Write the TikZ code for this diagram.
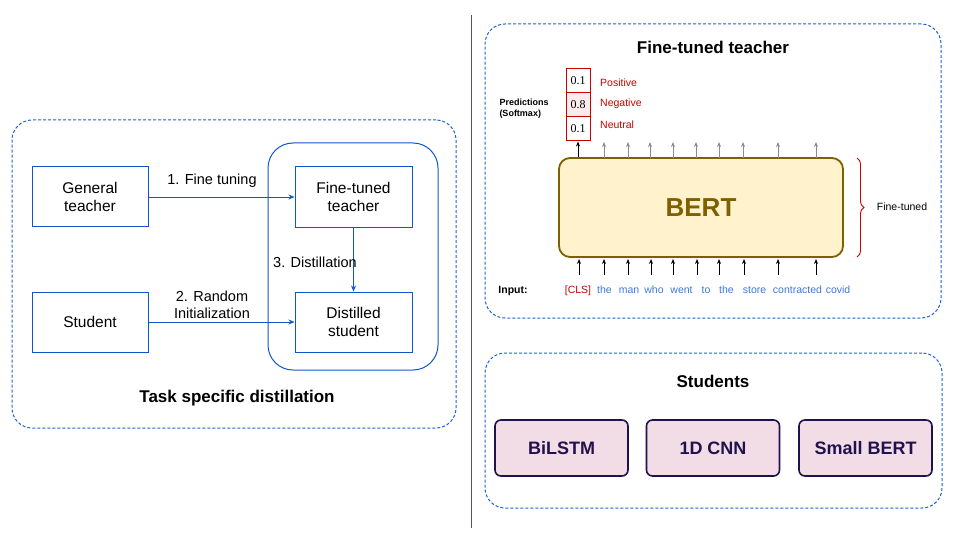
\documentclass[tikz,border=0pt]{standalone}
\usepackage{fontspec}
\setmainfont{Liberation Sans}
\newfontfamily\numfont{Liberation Serif}
\usetikzlibrary{arrows.meta,decorations.pathreplacing,calc}
\definecolor{lblue}{HTML}{1155CC}
\definecolor{dblue}{HTML}{1A62D8}
\definecolor{wblue}{HTML}{3C78D8}
\definecolor{rred}{HTML}{CC0000}
\definecolor{olive}{HTML}{7F6000}
\definecolor{bertfill}{HTML}{FFF2CC}
\definecolor{stfill}{HTML}{F2DDE6}
\definecolor{stdraw}{HTML}{20124D}
\definecolor{sep}{HTML}{555555}
\tikzset{
  groupbox/.style={draw=dblue, dash pattern=on 3pt off 2pt, line width=1pt, rounded corners=20pt},
  flowbox/.style={draw=lblue, line width=1pt, minimum width=116pt, minimum height=60pt, align=center, font=\fontsize{15.5}{18}\selectfont, inner sep=0pt},
  flowarr/.style={draw=lblue, line width=0.9pt, -{Stealth[length=6pt,width=5pt]}},
  flowlbl/.style={font=\fontsize{14.5}{17}\selectfont, align=center, inner sep=0pt},
  title/.style={font=\fontsize{17}{19}\selectfont\bfseries, inner sep=0pt},
  cell/.style={draw=rred, line width=1pt, minimum width=24pt, minimum height=24pt, inner sep=0pt, font=\numfont\fontsize{12}{13}\selectfont},
  predlbl/.style={text=rred, font=\fontsize{10.5}{12}\selectfont, anchor=west, inner sep=0pt, text height=7.8pt, text depth=2.2pt},
  word/.style={text=wblue, font=\fontsize{10.5}{12}\selectfont, inner sep=0pt, text height=7.8pt, text depth=2.2pt},
  outarr/.style={draw=gray!90, line width=0.8pt, -{Stealth[length=5pt,width=4pt]}},
  inarr/.style={draw=black, line width=0.8pt, -{Stealth[length=5pt,width=4pt]}},
  stbox/.style={draw=stdraw, fill=stfill, line width=1.6pt, rounded corners=6pt, minimum width=133pt, minimum height=56pt, inner sep=0pt, text=stdraw, font=\fontsize{18}{20}\selectfont\bfseries}
}
\begin{document}
\begin{tikzpicture}[x=1pt,y=-1pt]
\useasboundingbox (0,0) rectangle (960,540);
% separator
\draw[sep, line width=0.8pt] (471,15) -- (471,528);

% ---------- left panel ----------
\node[groupbox, minimum width=444pt, minimum height=308pt, inner sep=0pt] (leftgrp) at (234,274) {};
\node[draw=lblue, line width=1pt, rounded corners=25pt, minimum width=170pt, minimum height=227pt, inner sep=0pt] (inner) at (353,256.5) {};
\node[flowbox] (gt) at (90,196.5) {General\\teacher};
\node[flowbox] (st) at (90,322) {Student};
\node[flowbox, minimum width=117pt] (ft) at (353.5,197) {Fine-tuned\\teacher};
\node[flowbox, minimum width=117pt] (ds) at (353.5,322) {Distilled\\student};
\draw[flowarr] (gt.east |- ft.west) -- (ft.west);
\draw[flowarr] (st.east) -- (ds.west);
\draw[flowarr] (ft.south) -- (ds.north);
\node[flowlbl] (l1) at (212,181) {1. Fine tuning};
\node[flowlbl, text height=10pt] (l2) at (212,314) {2. Random\\Initialization};
\node[flowlbl] (l3) at (315,262) {3. Distillation};
\node[title] (tsd) at (237,398) {Task specific distillation};

% ---------- right top panel ----------
\node[groupbox, minimum width=456pt, minimum height=294pt, inner sep=0pt] (topgrp) at (713,171) {};
\node[title] (ftt) at (713,47) {Fine-tuned teacher};
\node[cell] (p1) at (578,81) {0.1};
\node[cell, fill=rred!8] (p2) at (578,105) {0.8};
\node[cell] (p3) at (578,129) {0.1};
\node[predlbl] (pos) at (600,84) {Positive};
\node[predlbl] (neg) at (600,104) {Negative};
\node[predlbl] (neu) at (600,126) {Neutral};
\node[font=\fontsize{9}{11}\selectfont\bfseries, align=left, inner sep=0pt] (pred) at (524,108.5) {Predictions\\(Softmax)};
\node[draw=olive, fill=bertfill, line width=1.8pt, rounded corners=11pt, minimum width=284pt, minimum height=99pt, inner sep=0pt, text=olive, font=\fontsize{26}{28}\selectfont\bfseries] (bert) at (701,207.5) {BERT};
% output arrows
\draw[inarr] (p3.south |- bert.north) -- (p3.south);
\foreach \x in {604,628,650,673,696,719,743,778,816}{
  \draw[outarr] (\x,158) -- (\x,142);
}
% input arrows
\foreach \x in {579,604,628,651,673,697,719,744,778,816}{
  \draw[inarr] (\x,275) -- (\x,259);
}
\node[font=\fontsize{10.5}{12}\selectfont\bfseries, inner sep=0pt, text height=7.8pt, text depth=2.2pt] (inp) at (513,291) {Input:};
\node[word, text=rred] (w1) at (578,291) {[CLS]};
\node[word] (w2) at (604.5,291) {the};
\node[word] (w3) at (629,291) {man};
\node[word] (w4) at (654,291) {who};
\node[word] (w5) at (681.5,291) {went};
\node[word] (w6) at (706,291) {to};
\node[word] (w7) at (726.5,291) {the};
\node[word] (w8) at (754.5,291) {store};
\node[word] (w9) at (797.5,291) {contracted};
\node[word] (w10) at (838,291) {covid};
\coordinate (bt) at (857,158);
\coordinate (bb) at (857,257);
\draw[rred, line width=0.9pt, decorate, decoration={brace, amplitude=7pt}] (bt) -- (bb);
\node[font=\fontsize{10.5}{12}\selectfont, inner sep=0pt] (ftl) at (902,207) {Fine-tuned};

% ---------- right bottom panel ----------
\node[groupbox, minimum width=457pt, minimum height=155pt, inner sep=0pt] (stgrp) at (713.5,430.5) {};
\node[title] (stt) at (713,381) {Students};
\node[stbox] (s1) at (561.5,448) {BiLSTM};
\node[stbox] (s2) at (713,448) {1D CNN};
\node[stbox] (s3) at (865.5,448) {Small BERT};
\end{tikzpicture}
\end{document}
